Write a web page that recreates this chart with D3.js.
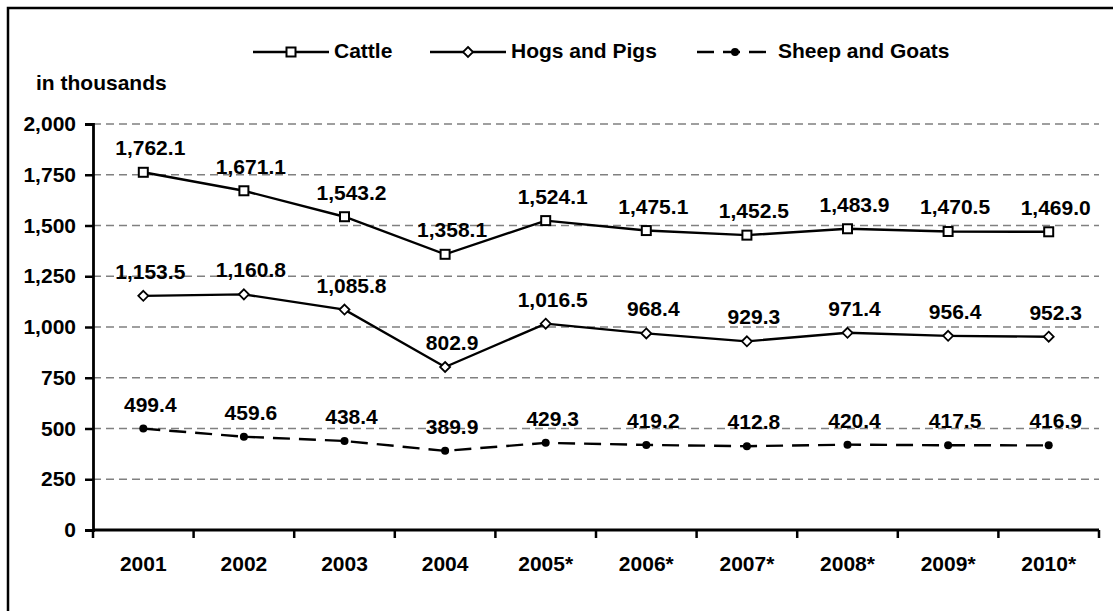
<!DOCTYPE html>
<html>
<head>
<meta charset="utf-8">
<script src="https://cdn.jsdelivr.net/npm/d3@7"></script>
<style>
  body { margin: 0; background: #fff; }
  text { font-family: Arial, "Liberation Sans", sans-serif; font-weight: bold; }
</style>
</head>
<body>
<script>
// data
const years = ["2001", "2002", "2003", "2004", "2005*", "2006*", "2007*", "2008*", "2009*", "2010*"];
const cattle = [1762.1, 1671.1, 1543.2, 1358.1, 1524.1, 1475.1, 1452.5, 1483.9, 1470.5, 1469.0];
const hogs = [1153.5, 1160.8, 1085.8, 802.9, 1016.5, 968.4, 929.3, 971.4, 956.4, 952.3];
const sheep = [499.4, 459.6, 438.4, 389.9, 429.3, 419.2, 412.8, 420.4, 417.5, 416.9];
const yTicks = [0, 250, 500, 750, 1000, 1250, 1500, 1750, 2000];

const width = 1113, height = 611;
const fontSize = "21px";
const svg = d3.select("body").append("svg")
    .attr("width", width)
    .attr("height", height);

// outer frame (runs off the right and bottom edge)
svg.append("rect")
    .attr("x", 8).attr("y", 8)
    .attr("width", 1120).attr("height", 620)
    .attr("fill", "none")
    .attr("stroke", "#000")
    .attr("stroke-width", 2.5);

const plotLeft = 93, plotRight = 1099, plotTop = 124, plotBottom = 530;

const x = d3.scaleBand().domain(years).range([plotLeft, plotRight]);
const y = d3.scaleLinear().domain([0, 2000]).range([plotBottom, plotTop]);

// gridlines
svg.append("g")
    .selectAll("line")
    .data(yTicks.slice(1))
    .enter()
    .append("line")
    .attr("x1", plotLeft).attr("x2", plotRight)
    .attr("y1", d => y(d)).attr("y2", d => y(d))
    .attr("stroke", "#808080")
    .attr("stroke-width", 1.3)
    .attr("stroke-dasharray", "8,5");

// y axis
const yAxis = d3.axisLeft(y).tickValues(yTicks).tickFormat(d3.format(",")).tickSize(8).tickPadding(9);
const gy = svg.append("g")
    .attr("transform", "translate(" + plotLeft + ",0)")
    .call(yAxis);

// x axis
const xAxis = d3.axisBottom(x).tickSize(0).tickPadding(26);
const gx = svg.append("g")
    .attr("transform", "translate(0," + plotBottom + ")")
    .call(xAxis);

// category boundary ticks
gx.selectAll(".bound")
    .data(years.map(d => x(d)).concat([plotRight]))
    .enter()
    .append("line")
    .attr("class", "bound")
    .attr("x1", d => d).attr("x2", d => d)
    .attr("y1", 0).attr("y2", 8)
    .attr("stroke", "#000")
    .attr("stroke-width", 2.5);

[gx, gy].forEach(g => {
    g.select(".domain").attr("stroke", "#000").attr("stroke-width", 2.8);
    g.selectAll(".tick line").attr("stroke", "#000").attr("stroke-width", 2.5);
    g.selectAll("text").attr("font-size", fontSize).attr("fill", "#000")
        .attr("font-family", "Arial, 'Liberation Sans', sans-serif").attr("font-weight", "bold");
});
gx.select(".domain").attr("d", "M" + plotLeft + ",0H" + plotRight);

svg.append("text")
    .attr("x", 36).attr("y", 90)
    .attr("font-size", fontSize)
    .text("in thousands");

const cx = (d, i) => x(years[i]) + x.bandwidth() / 2;
const line = d3.line().x(cx).y(d => y(d));

const series = [
    { name: "Cattle", values: cattle, dash: null, marker: "square" },
    { name: "Hogs and Pigs", values: hogs, dash: null, marker: "diamond" },
    { name: "Sheep and Goats", values: sheep, dash: "17,9", marker: "circle" }
];

function drawMarker(g, type, px, py) {
    if (type === "square") {
        g.append("rect")
            .attr("x", px - 4.5).attr("y", py - 4.5)
            .attr("width", 9).attr("height", 9)
            .attr("fill", "#fff").attr("stroke", "#000").attr("stroke-width", 2);
    } else if (type === "diamond") {
        g.append("path")
            .attr("d", "M" + px + "," + (py - 5) + "L" + (px + 5) + "," + py + "L" + px + "," + (py + 5) + "L" + (px - 5) + "," + py + "Z")
            .attr("fill", "#fff").attr("stroke", "#000").attr("stroke-width", 1.8);
    } else {
        g.append("circle")
            .attr("cx", px).attr("cy", py).attr("r", 4)
            .attr("fill", "#000");
    }
}

series.forEach(s => {
    svg.append("path")
        .datum(s.values)
        .attr("d", line)
        .attr("fill", "none")
        .attr("stroke", "#000")
        .attr("stroke-width", 2.4)
        .attr("stroke-dasharray", s.dash);

    const g = svg.append("g");
    s.values.forEach((v, i) => drawMarker(g, s.marker, cx(v, i), y(v)));

    // value labels, sitting a little right of and above each point
    svg.append("g")
        .selectAll("text")
        .data(s.values)
        .enter()
        .append("text")
        .attr("x", (d, i) => cx(d, i) + 7)
        .attr("y", d => y(d) - 17)
        .attr("text-anchor", "middle")
        .attr("font-size", fontSize)
        .text(d => d3.format(",.1f")(d));
});

// legend
const legendX = [253, 430, 697];
const legend = svg.append("g");
series.forEach((s, i) => {
    const lx = legendX[i], ly = 52;
    legend.append("line")
        .attr("x1", lx).attr("x2", lx + 76)
        .attr("y1", ly).attr("y2", ly)
        .attr("stroke", "#000")
        .attr("stroke-width", 2.4)
        .attr("stroke-dasharray", s.dash ? "17,9" : null);
    drawMarker(legend, s.marker, lx + 38, ly);
    legend.append("text")
        .attr("x", lx + 81).attr("y", ly + 6)
        .attr("font-size", fontSize)
        .text(s.name);
});
</script>
</body>
</html>
